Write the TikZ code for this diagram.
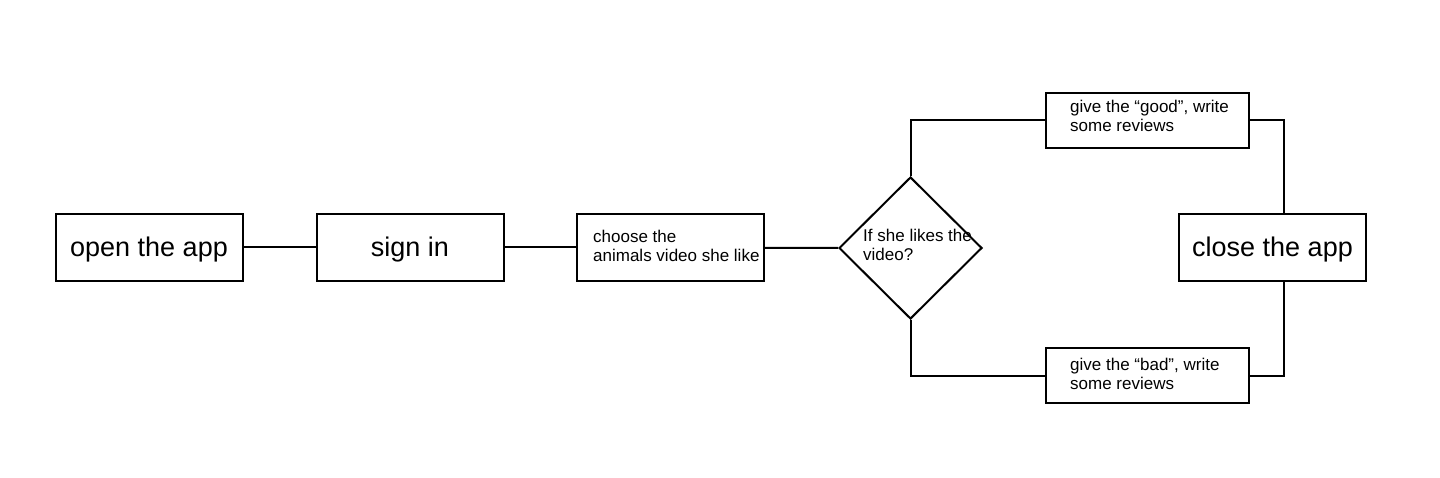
\documentclass[tikz,border=0pt]{standalone}
\usepackage{fontspec}
\setmainfont{Liberation Sans}
\usetikzlibrary{shapes.geometric}
\begin{document}
\begin{tikzpicture}[x=1pt,y=-1pt,
  box/.style={draw,line width=2pt,inner sep=0pt,minimum width=187pt,minimum height=67pt},
  bigtxt/.style={font=\fontsize{27}{32}\selectfont,text height=21pt,text depth=3pt},
  smalltxt/.style={font=\fontsize{17}{19.5}\selectfont,align=left,inner sep=0pt},
  wbox/.style={draw,line width=2pt,inner sep=0pt,minimum width=203pt,minimum height=55pt},
  link/.style={line width=2pt}]
\useasboundingbox (0,0) rectangle (1440,478);
\node[box,bigtxt] (open) at (149,247.5) {open the app};
\node[box,bigtxt] (sign) at (410,247.5) {sign in};
\node[box] (choose) at (670.5,247.5) {};
\node[smalltxt,anchor=west] (choosetxt) at (593,246) {choose the\\animals video she like};
\node[draw,line width=2pt,diamond,aspect=1,inner sep=0pt,minimum width=143pt,minimum height=142pt] (dec) at (910.5,248) {};
\node[smalltxt,anchor=west] (dectxt) at (863,245) {If she likes the\\video?};
\node[wbox] (good) at (1147.5,120.5) {};
\node[smalltxt,anchor=west] (goodtxt) at (1070,116) {give the “good”, write\\some reviews};
\node[wbox] (bad) at (1147.5,375.5) {};
\node[smalltxt,anchor=west] (badtxt) at (1070,374) {give the “bad”, write\\some reviews};
\node[box,bigtxt] (close) at (1272.5,247.5) {close the app};
\draw[link] (open) -- (sign);
\draw[link] (sign) -- (choose);
\draw[link] (choose) -- (dec.west);
\draw[link] (dec.north) |- (good.west);
\draw[link] (dec.south) |- (bad.west);
\draw[link] (good.east) -| (close.north -| 1284,0);
\draw[link] (bad.east) -| (close.south -| 1284,0);
\end{tikzpicture}
\end{document}
